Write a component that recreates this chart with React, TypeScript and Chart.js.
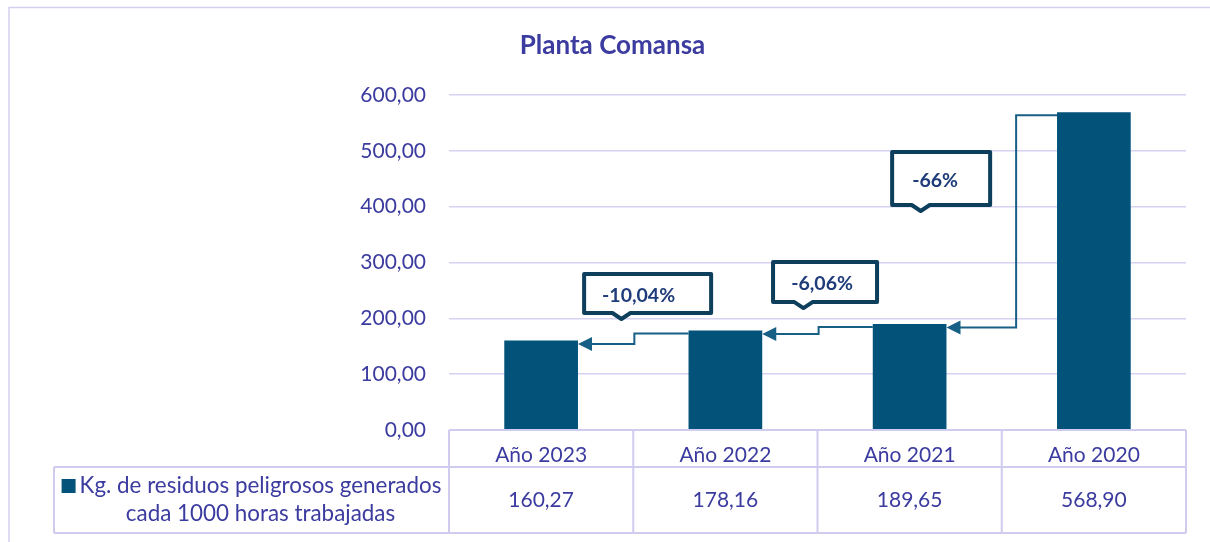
import React, { useEffect, useRef } from 'react';
import { Chart, registerables } from 'chart.js';

Chart.register(...registerables);

// ---------- data ----------
const titleText = 'Planta Comansa';
const categories = ['Año 2023', 'Año 2022', 'Año 2021', 'Año 2020'];
const residuos = [160.27, 178.16, 189.65, 568.9];
const changeLabels = ['-10,04%', '-6,06%', '-66%'];
const yTickValues = [0, 100, 200, 300, 400, 500, 600];
const seriesLabelLines = ['Kg. de residuos peligrosos generados', 'cada 1000 horas trabajadas'];

// ---------- layout / style ----------
const FONT = 'Lato, "Open Sans", sans-serif';
const INDIGO = '#3B3BA0';
const BAR = '#02527A';
const CALLOUT_BORDER = '#0D3E5C';
const CALLOUT_TEXT = '#1E3B7A';
const ARROW = '#175F85';
const GRID = '#D6D2F2';
const TABLE = '#D0CCEF';
const FRAME = '#D3CFF0';

// callout boxes: centre in (category index, value) space + size in px + text shift
const calloutLayout = [
  { xi: 0.578, yv: 244.5, w: 131, h: 43, dx: -9 },
  { xi: 1.541, yv: 265, w: 108, h: 44, dx: -3 },
  { xi: 2.171, yv: 450.5, w: 102, h: 57, dx: -6 },
];
const stepFractions = [0.51, 0.51, 0.63];

const fmt = (v: number) => v.toFixed(2).replace('.', ',');

const overlayPlugin = {
  id: 'overlay',
  beforeDraw(chart: any) {
    const ctx = chart.ctx;
    ctx.save();
    ctx.strokeStyle = FRAME;
    ctx.lineWidth = 1.5;
    ctx.beginPath();
    ctx.moveTo(9, chart.height);
    ctx.lineTo(9, 7.5);
    ctx.lineTo(chart.width, 7.5);
    ctx.stroke();
    // title
    ctx.fillStyle = INDIGO;
    ctx.font = `bold 26px ${FONT}`;
    ctx.textAlign = 'center';
    ctx.textBaseline = 'middle';
    ctx.fillText(titleText, 612.5, 46);
    ctx.restore();
  },
  afterDatasetsDraw(chart: any) {
    const { ctx, scales } = chart;
    const xs = scales.x;
    const ys = scales.y;
    const bars = chart.getDatasetMeta(0).data;
    ctx.save();
    // connectors with arrowheads
    for (let i = 0; i < bars.length - 1; i++) {
      const prev = bars[i];
      const next = bars[i + 1];
      const startX = next.x - next.width / 2;
      const startY = next.y + 3;
      const endX = prev.x + prev.width / 2;
      const endY = prev.y + 3.5;
      const stepX = endX + (startX - endX) * stepFractions[i];
      ctx.strokeStyle = ARROW;
      ctx.fillStyle = ARROW;
      ctx.lineWidth = 2;
      ctx.beginPath();
      ctx.moveTo(startX, startY);
      ctx.lineTo(stepX, startY);
      ctx.lineTo(stepX, endY);
      ctx.lineTo(endX + 12, endY);
      ctx.stroke();
      ctx.beginPath();
      ctx.moveTo(endX, endY);
      ctx.lineTo(endX + 14, endY - 7);
      ctx.lineTo(endX + 14, endY + 7);
      ctx.closePath();
      ctx.fill();
    }
    // callouts
    calloutLayout.forEach((c, i) => {
      const cx = xs.getPixelForValue(c.xi);
      const cy = ys.getPixelForValue(c.yv);
      const lw = 4;
      const l = cx - c.w / 2 + lw / 2;
      const r = cx + c.w / 2 - lw / 2;
      const t = cy - c.h / 2 + lw / 2;
      const b = cy + c.h / 2 - lw / 2;
      const nx = cx - c.w / 2 + c.w * 0.3;
      ctx.beginPath();
      ctx.moveTo(l, t);
      ctx.lineTo(r, t);
      ctx.lineTo(r, b);
      ctx.lineTo(nx + 9, b);
      ctx.lineTo(nx, b + 6);
      ctx.lineTo(nx - 9, b);
      ctx.lineTo(l, b);
      ctx.closePath();
      ctx.fillStyle = '#FFFFFF';
      ctx.fill();
      ctx.lineWidth = lw;
      ctx.lineJoin = 'round';
      ctx.strokeStyle = CALLOUT_BORDER;
      ctx.stroke();
      ctx.fillStyle = CALLOUT_TEXT;
      ctx.font = `bold 19.5px ${FONT}`;
      ctx.textAlign = 'center';
      ctx.textBaseline = 'middle';
      ctx.fillText(changeLabels[i], cx + c.dx, cy + 2);
    });
    ctx.restore();
  },
  afterDraw(chart: any) {
    const { ctx, chartArea, scales } = chart;
    const xs = scales.x;
    const top = chartArea.bottom;
    const mid = top + 37;
    const bot = mid + 66;
    const labelLeft = 54;
    ctx.save();
    ctx.strokeStyle = TABLE;
    ctx.lineWidth = 2;
    ctx.beginPath();
    ctx.moveTo(chartArea.left, top);
    ctx.lineTo(chartArea.right, top);
    ctx.moveTo(labelLeft, mid);
    ctx.lineTo(chartArea.right, mid);
    ctx.moveTo(labelLeft, bot);
    ctx.lineTo(chartArea.right, bot);
    ctx.moveTo(labelLeft, mid);
    ctx.lineTo(labelLeft, bot);
    for (let i = 0; i <= categories.length; i++) {
      const px = xs.getPixelForValue(i - 0.5);
      ctx.moveTo(px, top);
      ctx.lineTo(px, bot);
    }
    ctx.stroke();

    // values row
    ctx.fillStyle = INDIGO;
    ctx.font = `21px ${FONT}`;
    ctx.textAlign = 'center';
    ctx.textBaseline = 'middle';
    residuos.forEach((v, i) => {
      ctx.fillText(fmt(v), xs.getPixelForValue(i), (mid + bot) / 2);
    });

    // series label cell with legend key
    ctx.font = `22.4px ${FONT}`;
    const w1 = ctx.measureText(seriesLabelLines[0]).width;
    const cellCenter = (labelLeft + chartArea.left) / 2;
    const block = 14 + 4 + w1;
    const start = cellCenter - block / 2;
    const textLeft = start + 18;
    ctx.fillStyle = BAR;
    ctx.fillRect(start, mid + 12, 14, 14);
    ctx.fillStyle = INDIGO;
    ctx.textAlign = 'left';
    ctx.fillText(seriesLabelLines[0], textLeft, mid + 19);
    ctx.textAlign = 'center';
    ctx.fillText(seriesLabelLines[1], textLeft + w1 / 2, mid + 47);
    ctx.restore();
  },
};

export default function App() {
  const canvasRef = useRef<HTMLCanvasElement | null>(null);

  useEffect(() => {
    if (!canvasRef.current) return;
    const chart = new Chart(canvasRef.current, {
      type: 'bar',
      data: {
        labels: categories,
        datasets: [
          {
            label: seriesLabelLines.join(' '),
            data: residuos,
            backgroundColor: BAR,
            barPercentage: 0.4,
            categoryPercentage: 1,
          },
        ],
      },
      options: {
        animation: false,
        responsive: true,
        maintainAspectRatio: false,
        layout: { padding: { left: 0, right: 24, top: 95, bottom: 0 } },
        plugins: {
          legend: { display: false },
          tooltip: { enabled: false },
          title: { display: false },
        },
        scales: {
          x: {
            grid: { display: false },
            border: { display: false },
            ticks: {
              color: INDIGO,
              font: { family: FONT, size: 21 },
              padding: 5,
              maxRotation: 0,
            },
            afterFit: (s: any) => {
              s.height = 112;
            },
          },
          y: {
            min: 0,
            max: 600,
            afterBuildTicks: (s: any) => {
              s.ticks = yTickValues.map((v) => ({ value: v }));
            },
            grid: { color: GRID, lineWidth: 1.6, drawTicks: false },
            border: { display: false },
            ticks: {
              color: INDIGO,
              font: { family: FONT, size: 21 },
              padding: 23,
              callback: (v: any) => fmt(Number(v)),
            },
            afterFit: (s: any) => {
              s.width = 449;
            },
          },
        },
      },
      plugins: [overlayPlugin],
    });
    return () => chart.destroy();
  }, []);

  return (
    <div style={{ position: 'absolute', left: 0, top: 0, width: 1210, height: 542, background: '#fff' }}>
      <canvas ref={canvasRef} />
    </div>
  );
}
